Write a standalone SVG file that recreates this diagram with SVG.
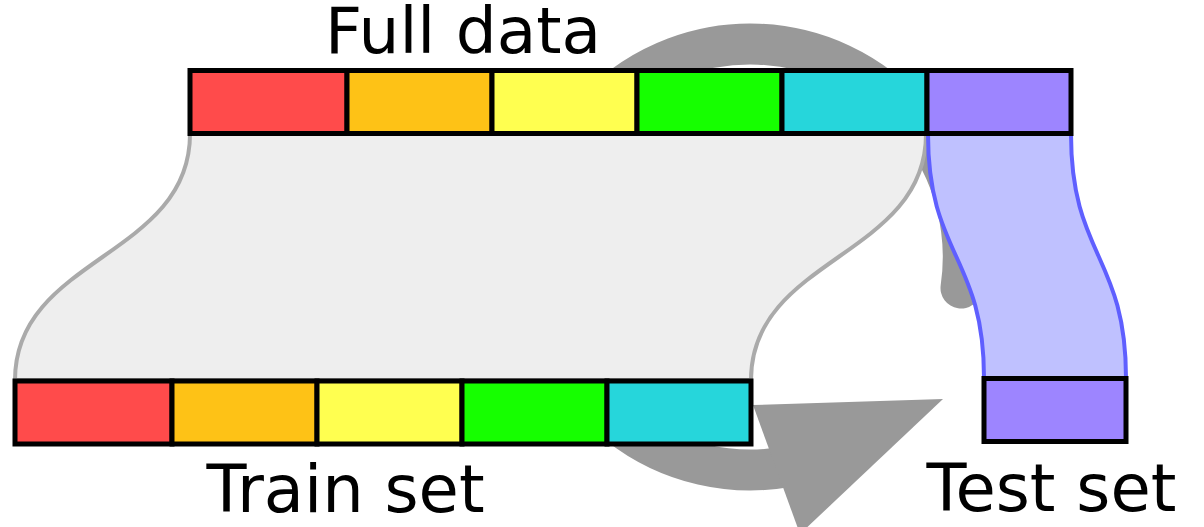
<svg xmlns="http://www.w3.org/2000/svg" width="1204" height="527" viewBox="0 0 1204 527">
  <style>
    .cell { stroke: #000; stroke-width: 5; }
    .red { fill: #ff4b4b; }
    .orange { fill: #fec216; }
    .yellow { fill: #ffff50; }
    .green { fill: #16ff00; }
    .cyan { fill: #26d6db; }
    .purple { fill: #9d85ff; }
    .label { font-family: "DejaVu Sans", Verdana, sans-serif; font-size: 65.5px; fill: #000; }
  </style>
  <rect width="1204" height="527" fill="#fff"/>
  <g id="cycle-arrow">
    <path d="M 961 288 A 213 213 0 1 0 787 466.8" fill="none" stroke="#999999" stroke-width="41" stroke-linecap="round"/>
    <polygon points="943,399 753,405 800,534" fill="#999999"/>
  </g>
  <g id="connectors">
    <path d="M 190 134 L 926 134 C 926 257 751 257 751 380 L 15 380 C 15 257 190 257 190 134 Z" fill="#eeeeee" stroke="#aaaaaa" stroke-width="4"/>
    <path d="M 928 134 L 1071 134 C 1071 256 1126 256 1126 378 L 984 378 C 984 256 928 256 928 134 Z" fill="#bfc1ff" stroke="#5f5fff" stroke-width="4"/>
  </g>
  <g id="full-data">
    <rect class="cell red" x="190" y="70.5" width="157" height="63"/>
    <rect class="cell orange" x="347" y="70.5" width="145" height="63"/>
    <rect class="cell yellow" x="492" y="70.5" width="145" height="63"/>
    <rect class="cell green" x="637" y="70.5" width="145" height="63"/>
    <rect class="cell cyan" x="782" y="70.5" width="145" height="63"/>
    <rect class="cell purple" x="927" y="70.5" width="144" height="63"/>
    <text class="label" x="325" y="53" style="font-size:64.5px">Full data</text>
  </g>
  <g id="train-set">
    <rect class="cell red" x="15" y="381" width="157" height="63"/>
    <rect class="cell orange" x="172" y="381" width="145" height="63"/>
    <rect class="cell yellow" x="317" y="381" width="145" height="63"/>
    <rect class="cell green" x="462" y="381" width="145" height="63"/>
    <rect class="cell cyan" x="607" y="381" width="144" height="63"/>
    <text class="label" x="206.5" y="511.5">Train set</text>
  </g>
  <g id="test-set">
    <rect class="cell purple" x="984" y="378.5" width="142" height="63"/>
    <text class="label" x="926.5" y="510.5">Test set</text>
  </g>
</svg>
